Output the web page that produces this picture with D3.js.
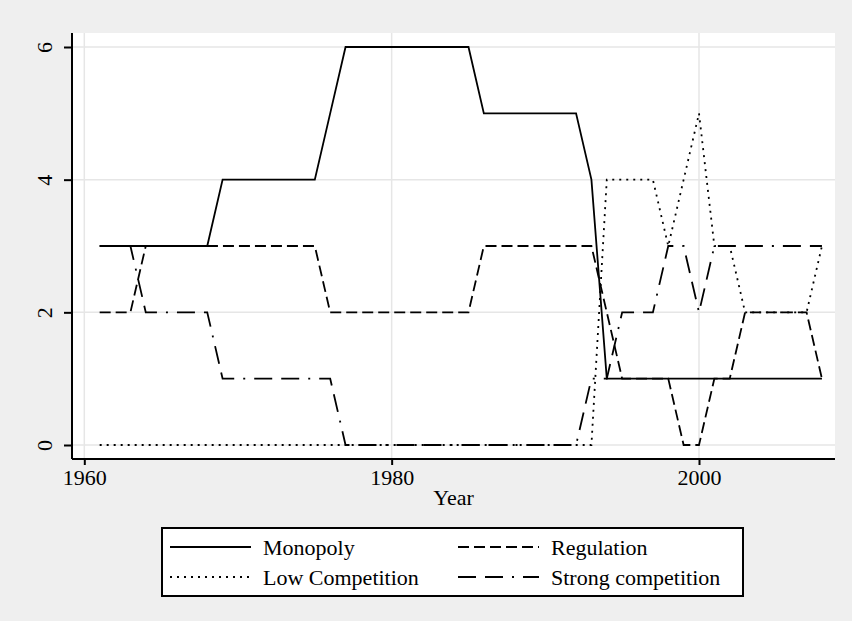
<!DOCTYPE html>
<html>
<head>
<meta charset="utf-8">
<script src="https://cdn.jsdelivr.net/npm/d3@7"></script>
<style>
  html, body { margin: 0; padding: 0; background: #efefef; }
  svg { display: block; }
  text { font-family: "Liberation Serif", "Times New Roman", serif; fill: #000; }
</style>
</head>
<body>
<svg id="chart" width="852" height="621"></svg>
<script>
// Number of firms per market structure, by year
const years = [1961, 1962, 1963, 1964, 1965, 1966, 1967, 1968, 1969, 1970,
               1971, 1972, 1973, 1974, 1975, 1976, 1977, 1978, 1979, 1980,
               1981, 1982, 1983, 1984, 1985, 1986, 1987, 1988, 1989, 1990,
               1991, 1992, 1993, 1994, 1995, 1996, 1997, 1998, 1999, 2000,
               2001, 2002, 2003, 2004, 2005, 2006, 2007, 2008];

const monopoly = [3, 3, 3, 3, 3, 3, 3, 3, 4, 4,
                  4, 4, 4, 4, 4, 5, 6, 6, 6, 6,
                  6, 6, 6, 6, 6, 5, 5, 5, 5, 5,
                  5, 5, 4, 1, 1, 1, 1, 1, 1, 1,
                  1, 1, 1, 1, 1, 1, 1, 1];

const regulation = [2, 2, 2, 3, 3, 3, 3, 3, 3, 3,
                    3, 3, 3, 3, 3, 2, 2, 2, 2, 2,
                    2, 2, 2, 2, 2, 3, 3, 3, 3, 3,
                    3, 3, 3, 2, 1, 1, 1, 1, 0, 0,
                    1, 1, 2, 2, 2, 2, 2, 1];

const lowCompetition = [0, 0, 0, 0, 0, 0, 0, 0, 0, 0,
                        0, 0, 0, 0, 0, 0, 0, 0, 0, 0,
                        0, 0, 0, 0, 0, 0, 0, 0, 0, 0,
                        0, 0, 0, 4, 4, 4, 4, 3, 4, 5,
                        3, 3, 2, 2, 2, 2, 2, 3];

const strongCompetition = [3, 3, 3, 2, 2, 2, 2, 2, 1, 1,
                           1, 1, 1, 1, 1, 1, 0, 0, 0, 0,
                           0, 0, 0, 0, 0, 0, 0, 0, 0, 0,
                           0, 0, 1, 1, 2, 2, 2, 3, 3, 2,
                           3, 3, 3, 3, 3, 3, 3, 3];

const seriesNames = ["Monopoly", "Regulation", "Low Competition", "Strong competition"];
const xTicks = [1960, 1980, 2000];
const yTicks = [0, 2, 4, 6];

// solid, dash, dot, long dash - long dash - dot
const series = [
  { name: seriesNames[0], values: monopoly,          dash: null },
  { name: seriesNames[1], values: regulation,        dash: "11,5" },
  { name: seriesNames[2], values: lowCompetition,    dash: "2,5" },
  { name: seriesNames[3], values: strongCompetition, dash: "18,9,18,9,2,9" }
];

const svg = d3.select("#chart");
const plot = { left: 72, right: 835, top: 33, bottom: 459 };
const FONT = 22;
const LW = 1.8;

const x = d3.scaleLinear().domain([1960, 2000]).range([84.3, 699]);
const y = d3.scaleLinear().domain([0, 6]).range([445, 47]);

// outer region
svg.append("rect").attr("width", 852).attr("height", 621).attr("fill", "#efefef");

// plot region
svg.append("rect")
  .attr("x", plot.left).attr("y", plot.top)
  .attr("width", plot.right - plot.left).attr("height", plot.bottom - plot.top)
  .attr("fill", "#ffffff");

// grid
const grid = svg.append("g").attr("stroke", "#e6e6e6").attr("stroke-width", 1.5);
grid.selectAll("line.h").data(yTicks).enter().append("line")
  .attr("x1", plot.left).attr("x2", plot.right)
  .attr("y1", d => y(d)).attr("y2", d => y(d));
grid.selectAll("line.v").data(xTicks).enter().append("line")
  .attr("y1", plot.top).attr("y2", plot.bottom)
  .attr("x1", d => x(d)).attr("x2", d => x(d));

// series lines
const line = d3.line()
  .x((d, i) => x(years[i]))
  .y(d => y(d));

svg.append("g").selectAll("path").data(series).enter().append("path")
  .attr("d", d => line(d.values))
  .attr("fill", "none")
  .attr("stroke", "#000")
  .attr("stroke-width", LW)
  .attr("stroke-dasharray", d => d.dash);

// y axis
const yAxis = d3.axisLeft(y).tickValues(yTicks).tickSize(8).tickPadding(0).tickFormat(d3.format("d"));
const gy = svg.append("g").attr("transform", `translate(${plot.left},0)`).call(yAxis);
gy.select(".domain").attr("d", `M0,${plot.top}V${plot.bottom}`).attr("stroke-width", 2);
gy.selectAll(".tick line").attr("stroke-width", 2);
gy.selectAll(".tick text")
  .attr("font-size", FONT)
  .attr("text-anchor", "middle")
  .attr("x", null).attr("dy", null)
  .attr("transform", "translate(-20,0) rotate(-90)");

// x axis
const xAxis = d3.axisBottom(x).tickValues(xTicks).tickSize(6).tickPadding(4).tickFormat(d3.format("d"));
const gx = svg.append("g").attr("transform", `translate(0,${plot.bottom})`).call(xAxis);
gx.select(".domain").attr("d", `M${plot.left},0H${plot.right}`).attr("stroke-width", 2);
gx.selectAll(".tick line").attr("stroke-width", 2);
gx.selectAll(".tick text").attr("font-size", FONT);

svg.append("text")
  .attr("x", (plot.left + plot.right) / 2).attr("y", 505)
  .attr("text-anchor", "middle").attr("font-size", FONT)
  .text("Year");

// legend
const legend = svg.append("g");
legend.append("rect")
  .attr("x", 162).attr("y", 528).attr("width", 581).attr("height", 68)
  .attr("fill", "#fff").attr("stroke", "#000").attr("stroke-width", 2);

const slots = [
  { col: 0, row: 0 }, { col: 1, row: 0 }, { col: 0, row: 1 }, { col: 1, row: 1 }
];
const colX = [170, 458];
const rowY = [547, 577];

series.forEach((s, i) => {
  const lx = colX[slots[i].col];
  const ly = rowY[slots[i].row];
  legend.append("line")
    .attr("x1", lx).attr("x2", lx + 81).attr("y1", ly).attr("y2", ly)
    .attr("stroke", "#000").attr("stroke-width", LW)
    .attr("stroke-dasharray", s.dash);
  legend.append("text")
    .attr("x", lx + 93).attr("y", ly + 8)
    .attr("font-size", FONT)
    .text(s.name);
});
</script>
</body>
</html>
